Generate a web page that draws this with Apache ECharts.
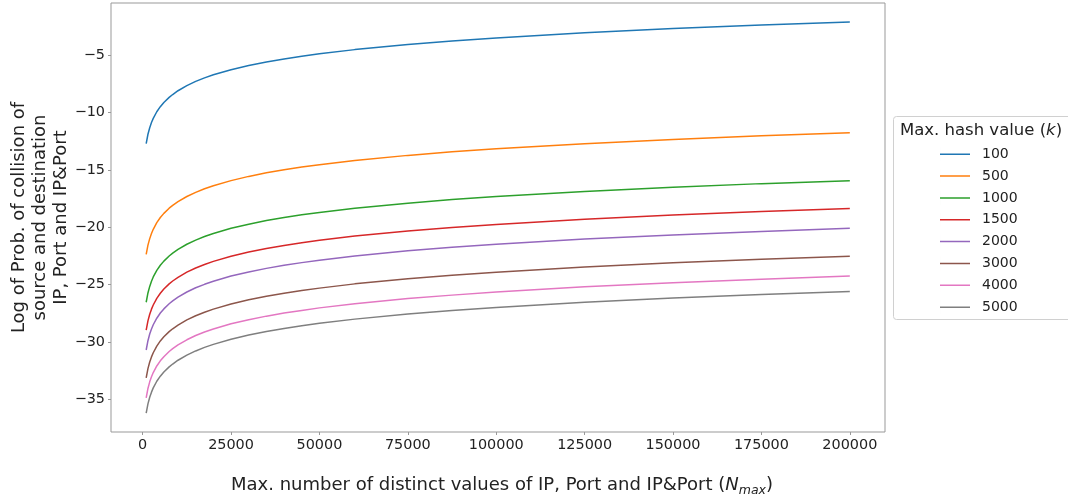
<!DOCTYPE html>
<html>
<head>
<meta charset="utf-8">
<title>Log probability of collision</title>
<script src="https://cdn.jsdelivr.net/npm/echarts@6/dist/echarts.min.js"></script>
<style>
  html, body { margin: 0; padding: 0; background: #fff; }
  #chart { width: 1068px; height: 502px; }
</style>
</head>
<body>
<div id="chart"></div>
<script>
// Max. number of distinct values (N_max) sampled along the x axis
const nMax = [1000, 1500, 2000, 2500, 3000, 4000, 5000, 6000, 7500, 8500,
  10000, 12500, 15000, 17500, 20000, 25000, 30000, 35000, 40000, 45000,
  50000, 60000, 75000, 87500, 100000, 125000, 150000, 175000, 200000];

// Max. hash value (k) for each curve
const hashValues = ['100', '500', '1000', '1500', '2000', '3000', '4000', '5000'];

// Log of collision probability for each k
const k100 = [-12.72, -11.90, -11.33, -10.88, -10.52, -9.94, -9.50, -9.13, -8.69, -8.44,
  -8.11, -7.66, -7.30, -6.99, -6.72, -6.28, -5.91, -5.61, -5.34, -5.10,
  -4.89, -4.53, -4.08, -3.77, -3.51, -3.06, -2.69, -2.39, -2.12];
const k500 = [-22.37, -21.56, -20.99, -20.54, -20.18, -19.60, -19.15, -18.79, -18.34, -18.09,
  -17.77, -17.32, -16.96, -16.65, -16.38, -15.94, -15.57, -15.26, -14.99, -14.76,
  -14.55, -14.18, -13.74, -13.43, -13.16, -12.72, -12.35, -12.04, -11.78];
const k1000 = [-26.53, -25.72, -25.15, -24.70, -24.33, -23.76, -23.31, -22.95, -22.50, -22.25,
  -21.93, -21.48, -21.12, -20.81, -20.54, -20.09, -19.73, -19.42, -19.15, -18.92,
  -18.71, -18.34, -17.90, -17.59, -17.32, -16.88, -16.51, -16.20, -15.94];
const k1500 = [-28.96, -28.15, -27.58, -27.13, -26.77, -26.19, -25.75, -25.38, -24.93, -24.68,
  -24.36, -23.91, -23.55, -23.24, -22.97, -22.53, -22.16, -21.85, -21.59, -21.35,
  -21.14, -20.77, -20.33, -20.02, -19.75, -19.31, -18.94, -18.63, -18.37];
const k2000 = [-30.69, -29.88, -29.30, -28.86, -28.49, -27.92, -27.47, -27.11, -26.66, -26.41,
  -26.08, -25.64, -25.27, -24.97, -24.70, -24.25, -23.89, -23.58, -23.31, -23.08,
  -22.87, -22.50, -22.05, -21.75, -21.48, -21.03, -20.67, -20.36, -20.09];
const k3000 = [-33.12, -32.31, -31.74, -31.29, -30.93, -30.35, -29.90, -29.54, -29.09, -28.84,
  -28.52, -28.07, -27.71, -27.40, -27.13, -26.69, -26.32, -26.01, -25.74, -25.51,
  -25.30, -24.93, -24.49, -24.18, -23.91, -23.47, -23.10, -22.79, -22.53];
const k4000 = [-34.85, -34.04, -33.46, -33.02, -32.65, -32.08, -31.63, -31.27, -30.82, -30.57,
  -30.24, -29.80, -29.43, -29.12, -28.86, -28.41, -28.05, -27.74, -27.47, -27.24,
  -27.02, -26.66, -26.21, -25.91, -25.64, -25.19, -24.83, -24.52, -24.25];
const k5000 = [-36.19, -35.38, -34.80, -34.36, -33.99, -33.41, -32.97, -32.60, -32.16, -31.91,
  -31.58, -31.14, -30.77, -30.46, -30.20, -29.75, -29.39, -29.08, -28.81, -28.57,
  -28.36, -28.00, -27.55, -27.24, -26.98, -26.53, -26.17, -25.86, -25.59];

// Tick positions
const xTicks = [0, 25000, 50000, 75000, 100000, 125000, 150000, 175000, 200000];
const yTicks = [-35, -30, -25, -20, -15, -10, -5];

const seriesValues = [k100, k500, k1000, k1500, k2000, k3000, k4000, k5000];
const palette = ['#1f77b4', '#ff7f0e', '#2ca02c', '#d62728', '#9467bd', '#8c564b', '#e377c2', '#7f7f7f'];

const FONT = '"DejaVu Sans", sans-serif';
const frameColor = '#999999';
const textColor = '#222222';

// Legend swatch: a thin horizontal stroke inside a 30x14 box
const lineIcon = 'path://M0,0h0.01v14h-0.01z M0,6.25h30v1.5h-30z';

const series = hashValues.map((name, i) => ({
  name: name,
  type: 'line',
  data: nMax.map((n, j) => [n, seriesValues[i][j]]),
  symbol: 'none',
  lineStyle: { color: palette[i], width: 1.5 },
  itemStyle: { color: palette[i] },
  emphasis: { disabled: true }
}));

const chart = echarts.init(document.getElementById('chart'), null, { renderer: 'canvas' });

chart.setOption({
  animation: false,
  backgroundColor: '#ffffff',
  textStyle: { fontFamily: FONT },
  grid: {
    left: 111, right: 183, top: 3, bottom: 70,
    show: true, borderColor: frameColor, borderWidth: 1, backgroundColor: '#ffffff'
  },
  xAxis: {
    type: 'value',
    min: -8950,
    max: 209950,
    axisLine: { show: false, onZero: false },
    splitLine: { show: false },
    axisTick: { show: true, length: 3, lineStyle: { color: frameColor }, customValues: xTicks },
    axisLabel: {
      customValues: xTicks,
      margin: 6,
      color: textColor,
      fontSize: 14.4,
      fontFamily: FONT,
      formatter: v => String(v)
    }
  },
  yAxis: {
    type: 'value',
    min: -37.83,
    max: -0.47,
    axisLine: { show: false, onZero: false },
    splitLine: { show: false },
    axisTick: { show: true, length: 3, lineStyle: { color: frameColor }, customValues: yTicks },
    axisLabel: {
      customValues: yTicks,
      margin: 6,
      color: textColor,
      fontSize: 14.4,
      fontFamily: FONT,
      formatter: v => String(v).replace('-', '\u2212')
    }
  },
  legend: {
    orient: 'vertical',
    left: 940,
    top: 147.2,
    padding: 0,
    itemWidth: 30,
    itemHeight: 14,
    itemGap: 7.85,
    icon: lineIcon,
    data: hashValues,
    selectedMode: false,
    textStyle: { fontSize: 14, color: textColor, fontFamily: FONT, padding: [0, 0, 0, 7] }
  },
  graphic: [
    {
      type: 'rect',
      z: -1,
      shape: { x: 893.5, y: 116.5, width: 190, height: 203, r: 3 },
      style: { fill: '#ffffff', stroke: '#d0d0d0', lineWidth: 1 }
    },
    {
      type: 'text',
      x: 981,
      y: 131,
      style: {
        text: '{a|Max. hash value (}{i|k}{a|)}',
        textAlign: 'center',
        textVerticalAlign: 'middle',
        rich: {
          a: { fontSize: 16.5, fontFamily: FONT, fill: textColor },
          i: { fontSize: 16.5, fontFamily: FONT, fontStyle: 'italic', fill: textColor }
        }
      }
    },
    {
      type: 'text',
      x: 502,
      y: 485,
      style: {
        text: '{n|Max. number of distinct values of IP, Port and IP&Port (}{i|N}{s|max}{n|)}',
        textAlign: 'center',
        textVerticalAlign: 'middle',
        rich: {
          n: { fontSize: 18, fontFamily: FONT, fill: textColor, lineHeight: 24, verticalAlign: 'middle' },
          i: { fontSize: 18, fontFamily: FONT, fontStyle: 'italic', fill: textColor, lineHeight: 24, verticalAlign: 'middle' },
          s: { fontSize: 12.5, fontFamily: FONT, fontStyle: 'italic', fill: textColor, lineHeight: 24, verticalAlign: 'bottom', padding: [8, 0, 0, 0] }
        }
      }
    },
    {
      type: 'text',
      x: 40,
      y: 217.5,
      rotation: Math.PI / 2,
      style: {
        text: 'Log of Prob. of collision of\nsource and destination\nIP, Port and IP&Port',
        textAlign: 'center',
        textVerticalAlign: 'middle',
        fontSize: 18,
        lineHeight: 21,
        fontFamily: FONT,
        fill: textColor
      }
    }
  ],
  series: series
});
</script>
</body>
</html>
